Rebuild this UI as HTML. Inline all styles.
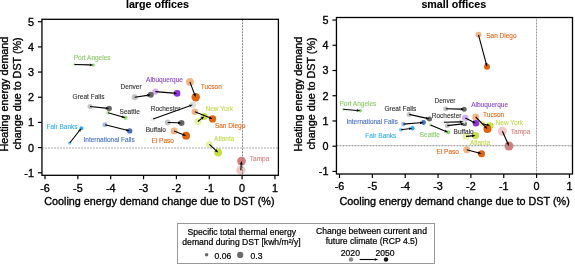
<!DOCTYPE html>
<html><head><meta charset="utf-8"><style>
html,body{margin:0;padding:0;background:#fff;}
body{width:575px;height:264px;overflow:hidden;}
text{stroke-width:0.35px;} text.s{stroke-width:0.12px;} text.lg{stroke-width:0.22px;} text.t{stroke-width:0.12px;}
svg{display:block;will-change:transform;font-family:"Liberation Sans",sans-serif;}
</style></head><body>
<svg width="575" height="264" viewBox="0 0 575 264">
<circle cx="74.5" cy="64.5" r="1.6" fill="#c4e8ae"/><circle cx="90" cy="106.5" r="2.5" fill="#c4c4c4"/><circle cx="108" cy="112.8" r="2.0" fill="#c4e8ae"/><circle cx="134.7" cy="97.3" r="3" fill="#c4c4c4"/><circle cx="155.4" cy="91.6" r="3.1" fill="#d6acf6"/><circle cx="189.9" cy="81.9" r="3.9" fill="#f3b584"/><circle cx="153.1" cy="119.1" r="2.6" fill="#f0f0f0"/><circle cx="167.7" cy="122.5" r="3" fill="#c4c4c4"/><circle cx="194.8" cy="111.8" r="3.3" fill="#f3b584"/><circle cx="197.9" cy="121.5" r="3.5" fill="#e4f2a4"/><circle cx="174.1" cy="131.1" r="3.5" fill="#f3b584"/><circle cx="209.4" cy="144.4" r="3.5" fill="#e4f2a4"/><circle cx="240.8" cy="170.3" r="4.5" fill="#f0c6c6"/><circle cx="69.7" cy="143" r="1.8" fill="#84d4f8"/><circle cx="105" cy="124.8" r="2.5" fill="#aabae6"/><circle cx="93.2" cy="65" r="1.6" fill="#90da70"/><circle cx="109.2" cy="108.5" r="2.7" fill="#686868"/><circle cx="125.5" cy="117.8" r="2.1" fill="#90da70"/><circle cx="150.8" cy="94.8" r="3" fill="#686868"/><circle cx="177.1" cy="93.4" r="3.3" fill="#8e2fe0"/><circle cx="195.7" cy="97.2" r="4.2" fill="#e0640c"/><circle cx="192.8" cy="104.8" r="3.2" fill="#dedede"/><circle cx="181.5" cy="122.9" r="3" fill="#686868"/><circle cx="212.6" cy="118.9" r="3.6" fill="#e0640c"/><circle cx="204.2" cy="116.4" r="3.5" fill="#c8e048"/><circle cx="186.1" cy="135.7" r="3.9" fill="#e0640c"/><circle cx="218.2" cy="152.6" r="4" fill="#c8e048"/><circle cx="241.5" cy="161.1" r="4.4" fill="#d87e7e"/><circle cx="81.4" cy="128.2" r="2.0" fill="#2eb0ee"/><circle cx="129.7" cy="130.9" r="2.7" fill="#4a6ec2"/><line x1="41.95" y1="148.0" x2="278.4" y2="148.0" stroke="#aaa" stroke-width="1" stroke-dasharray="2,1"/><line x1="242.5" y1="19.3" x2="242.5" y2="175.3" stroke="#888" stroke-width="1" stroke-dasharray="2,1" stroke-dashoffset="0"/><line x1="74.50" y1="64.50" x2="89.60" y2="64.90" stroke="#000" stroke-width="1.1"/><polygon points="93.20,65.00 89.57,66.25 89.64,63.55" fill="#000"/><line x1="90.00" y1="106.50" x2="105.62" y2="108.13" stroke="#000" stroke-width="1.1"/><polygon points="109.20,108.50 105.48,109.47 105.76,106.78" fill="#000"/><line x1="108.00" y1="112.80" x2="122.04" y2="116.81" stroke="#000" stroke-width="1.1"/><polygon points="125.50,117.80 121.67,118.11 122.41,115.51" fill="#000"/><line x1="134.70" y1="97.30" x2="147.24" y2="95.35" stroke="#000" stroke-width="1.1"/><polygon points="150.80,94.80 147.45,96.69 147.04,94.02" fill="#000"/><line x1="155.40" y1="91.60" x2="173.51" y2="93.10" stroke="#000" stroke-width="1.1"/><polygon points="177.10,93.40 173.40,94.45 173.62,91.76" fill="#000"/><line x1="189.90" y1="81.90" x2="194.42" y2="93.83" stroke="#000" stroke-width="1.1"/><polygon points="195.70,97.20 193.16,94.31 195.69,93.36" fill="#000"/><line x1="153.10" y1="119.10" x2="189.41" y2="106.02" stroke="#000" stroke-width="1.1"/><polygon points="192.80,104.80 189.87,107.29 188.96,104.75" fill="#000"/><line x1="167.70" y1="122.50" x2="177.90" y2="122.80" stroke="#000" stroke-width="1.1"/><polygon points="181.50,122.90 177.86,124.15 177.94,121.45" fill="#000"/><line x1="194.80" y1="111.80" x2="209.26" y2="117.57" stroke="#000" stroke-width="1.1"/><polygon points="212.60,118.90 208.76,118.82 209.76,116.31" fill="#000"/><line x1="197.90" y1="121.50" x2="201.40" y2="118.67" stroke="#000" stroke-width="1.1"/><polygon points="204.20,116.40 202.25,119.71 200.55,117.62" fill="#000"/><line x1="174.10" y1="131.10" x2="182.74" y2="134.41" stroke="#000" stroke-width="1.1"/><polygon points="186.10,135.70 182.26,135.67 183.22,133.15" fill="#000"/><line x1="209.40" y1="144.40" x2="215.57" y2="150.15" stroke="#000" stroke-width="1.1"/><polygon points="218.20,152.60 214.65,151.13 216.49,149.16" fill="#000"/><line x1="240.80" y1="170.30" x2="241.23" y2="164.69" stroke="#000" stroke-width="1.1"/><polygon points="241.50,161.10 242.57,164.79 239.88,164.59" fill="#000"/><line x1="69.70" y1="143.00" x2="79.17" y2="131.02" stroke="#000" stroke-width="1.1"/><polygon points="81.40,128.20 80.23,131.86 78.11,130.19" fill="#000"/><line x1="105.00" y1="124.80" x2="126.21" y2="130.04" stroke="#000" stroke-width="1.1"/><polygon points="129.70,130.90 125.88,131.35 126.53,128.73" fill="#000"/><text stroke="#8ccc6a" x="73.7" y="59.8" fill="#8ccc6a" font-size="6.5" class="s">Port Angeles</text><text stroke="#333333" x="72.60000000000001" y="99.4" fill="#333333" font-size="6.5" class="s">Great Falls</text><text stroke="#333333" x="119.60000000000001" y="114.2" fill="#333333" font-size="6.5" class="s">Seattle</text><text stroke="#333333" x="120.60000000000001" y="88.9" fill="#333333" font-size="6.5" class="s">Denver</text><text stroke="#8a4cca" x="146.1" y="82.1" fill="#8a4cca" font-size="6.5" class="s">Albuquerque</text><text stroke="#e2691c" x="200.7" y="88.9" fill="#e2691c" font-size="6.5" class="s">Tucson</text><text stroke="#333333" x="150.7" y="110.9" fill="#333333" font-size="6.5" class="s">Rochester</text><text stroke="#333333" x="145.7" y="132.1" fill="#333333" font-size="6.5" class="s">Buffalo</text><text stroke="#e2691c" x="214.89999999999998" y="128" fill="#e2691c" font-size="6.5" class="s">San Diego</text><text stroke="#c4d850" x="205.5" y="110.9" fill="#c4d850" font-size="6.5" class="s">New York</text><text stroke="#e2691c" x="151.5" y="142.9" fill="#e2691c" font-size="6.5" class="s">El Paso</text><text stroke="#c4d850" x="214.1" y="140.9" fill="#c4d850" font-size="6.5" class="s">Atlanta</text><text stroke="#d88484" x="249.79999999999998" y="160.6" fill="#d88484" font-size="6.5" class="s">Tampa</text><text stroke="#38b0e8" x="46.5" y="128.5" fill="#38b0e8" font-size="6.5" class="s">Fair Banks</text><text stroke="#4a70c0" x="83.5" y="141.8" fill="#4a70c0" font-size="6.5" class="s">International Falls</text><rect x="41.95" y="19.3" width="236.45" height="156.0" fill="none" stroke="#000" stroke-width="1.3"/><line x1="37.95" y1="172.78" x2="41.95" y2="172.78" stroke="#000" stroke-width="1.2"/><text stroke="#000" x="33.95" y="176.68" text-anchor="end" font-size="10.8">-1</text><line x1="37.95" y1="147.60" x2="41.95" y2="147.60" stroke="#000" stroke-width="1.2"/><text stroke="#000" x="33.95" y="151.50" text-anchor="end" font-size="10.8">0</text><line x1="37.95" y1="122.42" x2="41.95" y2="122.42" stroke="#000" stroke-width="1.2"/><text stroke="#000" x="33.95" y="126.33" text-anchor="end" font-size="10.8">1</text><line x1="37.95" y1="97.25" x2="41.95" y2="97.25" stroke="#000" stroke-width="1.2"/><text stroke="#000" x="33.95" y="101.15" text-anchor="end" font-size="10.8">2</text><line x1="37.95" y1="72.07" x2="41.95" y2="72.07" stroke="#000" stroke-width="1.2"/><text stroke="#000" x="33.95" y="75.97" text-anchor="end" font-size="10.8">3</text><line x1="37.95" y1="46.90" x2="41.95" y2="46.90" stroke="#000" stroke-width="1.2"/><text stroke="#000" x="33.95" y="50.80" text-anchor="end" font-size="10.8">4</text><line x1="37.95" y1="21.72" x2="41.95" y2="21.72" stroke="#000" stroke-width="1.2"/><text stroke="#000" x="33.95" y="25.62" text-anchor="end" font-size="10.8">5</text><line x1="45.00" y1="175.3" x2="45.00" y2="179.3" stroke="#000" stroke-width="1.2"/><text stroke="#000" x="45.00" y="191.60" text-anchor="middle" font-size="10.8">-6</text><line x1="77.85" y1="175.3" x2="77.85" y2="179.3" stroke="#000" stroke-width="1.2"/><text stroke="#000" x="77.85" y="191.60" text-anchor="middle" font-size="10.8">-5</text><line x1="110.70" y1="175.3" x2="110.70" y2="179.3" stroke="#000" stroke-width="1.2"/><text stroke="#000" x="110.70" y="191.60" text-anchor="middle" font-size="10.8">-4</text><line x1="143.55" y1="175.3" x2="143.55" y2="179.3" stroke="#000" stroke-width="1.2"/><text stroke="#000" x="143.55" y="191.60" text-anchor="middle" font-size="10.8">-3</text><line x1="176.40" y1="175.3" x2="176.40" y2="179.3" stroke="#000" stroke-width="1.2"/><text stroke="#000" x="176.40" y="191.60" text-anchor="middle" font-size="10.8">-2</text><line x1="209.25" y1="175.3" x2="209.25" y2="179.3" stroke="#000" stroke-width="1.2"/><text stroke="#000" x="209.25" y="191.60" text-anchor="middle" font-size="10.8">-1</text><line x1="242.10" y1="175.3" x2="242.10" y2="179.3" stroke="#000" stroke-width="1.2"/><text stroke="#000" x="242.10" y="191.60" text-anchor="middle" font-size="10.8">0</text><line x1="274.95" y1="175.3" x2="274.95" y2="179.3" stroke="#000" stroke-width="1.2"/><text stroke="#000" x="274.95" y="191.60" text-anchor="middle" font-size="10.8">1</text><circle cx="478.5" cy="34.8" r="3" fill="#f3b584"/><circle cx="343.3" cy="109.2" r="1.5" fill="#c4e8ae"/><circle cx="409.1" cy="114.4" r="2.5" fill="#c4c4c4"/><circle cx="403.4" cy="124.1" r="2.3" fill="#aabae6"/><circle cx="400.9" cy="129.7" r="2.1" fill="#84d4f8"/><circle cx="430.6" cy="125" r="1.8" fill="#c4e8ae"/><circle cx="445.8" cy="108.8" r="2.5" fill="#c4c4c4"/><circle cx="447.3" cy="125.6" r="2.5" fill="#c4c4c4"/><circle cx="444" cy="122.3" r="2.5" fill="#f0f0f0"/><circle cx="465.3" cy="118" r="3.3" fill="#d6acf6"/><circle cx="482.5" cy="123.75" r="3" fill="#e4f2a4"/><circle cx="475.7" cy="117" r="3.4" fill="#f3b584"/><circle cx="502.4" cy="131.2" r="4.5" fill="#f0c6c6"/><circle cx="466" cy="136.4" r="3.4" fill="#e4f2a4"/><circle cx="466.7" cy="149.7" r="3.5" fill="#f3b584"/><circle cx="487" cy="66.7" r="3" fill="#e0640c"/><circle cx="360.3" cy="110.8" r="1.7" fill="#90da70"/><circle cx="429.5" cy="118.9" r="2.5" fill="#686868"/><circle cx="423.5" cy="122.5" r="2.4" fill="#4a6ec2"/><circle cx="412.4" cy="128.3" r="2.2" fill="#2eb0ee"/><circle cx="448.2" cy="132.3" r="2" fill="#90da70"/><circle cx="464.2" cy="109.2" r="2.5" fill="#686868"/><circle cx="464.4" cy="123.7" r="2.5" fill="#686868"/><circle cx="463.4" cy="121.8" r="2.4" fill="#dedede"/><circle cx="476" cy="123.3" r="3.3" fill="#8e2fe0"/><circle cx="490.2" cy="125.5" r="3.3" fill="#c8e048"/><circle cx="487.4" cy="129" r="4" fill="#e0640c"/><circle cx="509" cy="146" r="4.5" fill="#d87e7e"/><circle cx="475.6" cy="135.5" r="3.6" fill="#c8e048"/><circle cx="481.5" cy="153.8" r="3.5" fill="#e0640c"/><line x1="336.45" y1="145.75" x2="572.5" y2="145.75" stroke="#888" stroke-width="1" stroke-dasharray="2,1"/><line x1="536.5" y1="17.5" x2="536.5" y2="174.0" stroke="#999" stroke-width="1" stroke-dasharray="2,1" stroke-dashoffset="1"/><line x1="478.50" y1="34.80" x2="486.07" y2="63.22" stroke="#000" stroke-width="1.1"/><polygon points="487.00,66.70 484.77,63.57 487.38,62.87" fill="#000"/><line x1="343.30" y1="109.20" x2="356.72" y2="110.46" stroke="#000" stroke-width="1.1"/><polygon points="360.30,110.80 356.59,111.81 356.84,109.12" fill="#000"/><line x1="409.10" y1="114.40" x2="425.98" y2="118.12" stroke="#000" stroke-width="1.1"/><polygon points="429.50,118.90 425.69,119.44 426.28,116.81" fill="#000"/><line x1="403.40" y1="124.10" x2="419.91" y2="122.79" stroke="#000" stroke-width="1.1"/><polygon points="423.50,122.50 420.02,124.13 419.80,121.44" fill="#000"/><line x1="400.90" y1="129.70" x2="408.83" y2="128.74" stroke="#000" stroke-width="1.1"/><polygon points="412.40,128.30 408.99,130.08 408.66,127.39" fill="#000"/><line x1="430.60" y1="125.00" x2="444.87" y2="130.92" stroke="#000" stroke-width="1.1"/><polygon points="448.20,132.30 444.36,132.17 445.39,129.67" fill="#000"/><line x1="445.80" y1="108.80" x2="460.60" y2="109.12" stroke="#000" stroke-width="1.1"/><polygon points="464.20,109.20 460.57,110.47 460.63,107.77" fill="#000"/><line x1="447.30" y1="125.60" x2="460.82" y2="124.10" stroke="#000" stroke-width="1.1"/><polygon points="464.40,123.70 460.97,125.44 460.67,122.76" fill="#000"/><line x1="444.00" y1="122.30" x2="459.80" y2="121.89" stroke="#000" stroke-width="1.1"/><polygon points="463.40,121.80 459.84,123.24 459.77,120.54" fill="#000"/><line x1="465.30" y1="118.00" x2="472.77" y2="121.70" stroke="#000" stroke-width="1.1"/><polygon points="476.00,123.30 472.17,122.91 473.37,120.49" fill="#000"/><line x1="482.50" y1="123.75" x2="486.69" y2="124.70" stroke="#000" stroke-width="1.1"/><polygon points="490.20,125.50 486.39,126.02 486.99,123.39" fill="#000"/><line x1="475.70" y1="117.00" x2="484.89" y2="126.42" stroke="#000" stroke-width="1.1"/><polygon points="487.40,129.00 483.92,127.36 485.85,125.48" fill="#000"/><line x1="502.40" y1="131.20" x2="507.53" y2="142.71" stroke="#000" stroke-width="1.1"/><polygon points="509.00,146.00 506.30,143.26 508.77,142.16" fill="#000"/><line x1="466.00" y1="136.40" x2="472.02" y2="135.84" stroke="#000" stroke-width="1.1"/><polygon points="475.60,135.50 472.14,137.18 471.89,134.49" fill="#000"/><line x1="466.70" y1="149.70" x2="478.03" y2="152.84" stroke="#000" stroke-width="1.1"/><polygon points="481.50,153.80 477.67,154.14 478.39,151.54" fill="#000"/><text stroke="#e2691c" x="486.2" y="37.9" fill="#e2691c" font-size="6.5" class="s">San Diego</text><text stroke="#8ccc6a" x="339.5" y="106.2" fill="#8ccc6a" font-size="6.5" class="s">Port Angeles</text><text stroke="#333333" x="384.5" y="110.9" fill="#333333" font-size="6.5" class="s">Great Falls</text><text stroke="#4a70c0" x="346.4" y="124.2" fill="#4a70c0" font-size="6.5" class="s">International Falls</text><text stroke="#38b0e8" x="365.3" y="138.2" fill="#38b0e8" font-size="6.5" class="s">Fair Banks</text><text stroke="#8ccc6a" x="419.7" y="137" fill="#8ccc6a" font-size="6.5" class="s">Seattle</text><text stroke="#333333" x="434.5" y="102.9" fill="#333333" font-size="6.5" class="s">Denver</text><text stroke="#333333" x="453.59999999999997" y="133.6" fill="#333333" font-size="6.5" class="s">Buffalo</text><text stroke="#333333" x="431.8" y="117.6" fill="#333333" font-size="6.5" class="s">Rochester</text><text stroke="#8a4cca" x="471.2" y="107.4" fill="#8a4cca" font-size="6.5" class="s">Albuquerque</text><text stroke="#c4d850" x="495.59999999999997" y="124.9" fill="#c4d850" font-size="6.5" class="s">New York</text><text stroke="#e2691c" x="483.09999999999997" y="116.7" fill="#e2691c" font-size="6.5" class="s">Tucson</text><text stroke="#d88484" x="510.8" y="133.9" fill="#d88484" font-size="6.5" class="s">Tampa</text><text stroke="#c4d850" x="469.9" y="144.8" fill="#c4d850" font-size="6.5" class="s">Atlanta</text><text stroke="#e2691c" x="436.5" y="153.5" fill="#e2691c" font-size="6.5" class="s">El Paso</text><rect x="336.45" y="17.5" width="236.05" height="156.5" fill="none" stroke="#000" stroke-width="1.3"/><line x1="332.45" y1="171.43" x2="336.45" y2="171.43" stroke="#000" stroke-width="1.2"/><text stroke="#000" x="328.45" y="175.33" text-anchor="end" font-size="10.8">-1</text><line x1="332.45" y1="146.20" x2="336.45" y2="146.20" stroke="#000" stroke-width="1.2"/><text stroke="#000" x="328.45" y="150.10" text-anchor="end" font-size="10.8">0</text><line x1="332.45" y1="120.97" x2="336.45" y2="120.97" stroke="#000" stroke-width="1.2"/><text stroke="#000" x="328.45" y="124.87" text-anchor="end" font-size="10.8">1</text><line x1="332.45" y1="95.74" x2="336.45" y2="95.74" stroke="#000" stroke-width="1.2"/><text stroke="#000" x="328.45" y="99.64" text-anchor="end" font-size="10.8">2</text><line x1="332.45" y1="70.51" x2="336.45" y2="70.51" stroke="#000" stroke-width="1.2"/><text stroke="#000" x="328.45" y="74.41" text-anchor="end" font-size="10.8">3</text><line x1="332.45" y1="45.28" x2="336.45" y2="45.28" stroke="#000" stroke-width="1.2"/><text stroke="#000" x="328.45" y="49.18" text-anchor="end" font-size="10.8">4</text><line x1="332.45" y1="20.05" x2="336.45" y2="20.05" stroke="#000" stroke-width="1.2"/><text stroke="#000" x="328.45" y="23.95" text-anchor="end" font-size="10.8">5</text><line x1="339.50" y1="174.0" x2="339.50" y2="178.0" stroke="#000" stroke-width="1.2"/><text stroke="#000" x="339.50" y="189.90" text-anchor="middle" font-size="10.8">-6</text><line x1="372.35" y1="174.0" x2="372.35" y2="178.0" stroke="#000" stroke-width="1.2"/><text stroke="#000" x="372.35" y="189.90" text-anchor="middle" font-size="10.8">-5</text><line x1="405.20" y1="174.0" x2="405.20" y2="178.0" stroke="#000" stroke-width="1.2"/><text stroke="#000" x="405.20" y="189.90" text-anchor="middle" font-size="10.8">-4</text><line x1="438.05" y1="174.0" x2="438.05" y2="178.0" stroke="#000" stroke-width="1.2"/><text stroke="#000" x="438.05" y="189.90" text-anchor="middle" font-size="10.8">-3</text><line x1="470.90" y1="174.0" x2="470.90" y2="178.0" stroke="#000" stroke-width="1.2"/><text stroke="#000" x="470.90" y="189.90" text-anchor="middle" font-size="10.8">-2</text><line x1="503.75" y1="174.0" x2="503.75" y2="178.0" stroke="#000" stroke-width="1.2"/><text stroke="#000" x="503.75" y="189.90" text-anchor="middle" font-size="10.8">-1</text><line x1="536.60" y1="174.0" x2="536.60" y2="178.0" stroke="#000" stroke-width="1.2"/><text stroke="#000" x="536.60" y="189.90" text-anchor="middle" font-size="10.8">0</text><line x1="569.45" y1="174.0" x2="569.45" y2="178.0" stroke="#000" stroke-width="1.2"/><text stroke="#000" x="569.45" y="189.90" text-anchor="middle" font-size="10.8">1</text><text stroke="#000" x="157.4" y="8" text-anchor="middle" font-size="10.7" font-weight="bold" class="t">large offices</text><text stroke="#000" x="453.8" y="7.7" text-anchor="middle" font-size="10.7" font-weight="bold" class="t">small offices</text><text stroke="#000" x="159.35" y="205.1" text-anchor="middle" font-size="10.8">Cooling energy demand change due to DST (%)</text><text stroke="#000" x="454.6" y="205.0" text-anchor="middle" font-size="10.8">Cooling energy demand change due to DST (%)</text><text stroke="#000" transform="translate(7.7,94.10000000000001) rotate(-90)" x="0" y="0" text-anchor="middle" font-size="10.75">Heating energy demand</text><text stroke="#000" transform="translate(20.8,93.45) rotate(-90)" x="0" y="0" text-anchor="middle" font-size="10.75">change due to DST (%)</text><text stroke="#000" transform="translate(302.0,94.15) rotate(-90)" x="0" y="0" text-anchor="middle" font-size="10.75">Heating energy demand</text><text stroke="#000" transform="translate(315.0,93.5) rotate(-90)" x="0" y="0" text-anchor="middle" font-size="10.75">change due to DST (%)</text><rect x="177.5" y="223.5" width="257" height="40" fill="none" stroke="#999" stroke-width="1"/><text stroke="#000" x="241.8" y="234.8" text-anchor="middle" font-size="8.6" class="lg">Specific total thermal energy</text><text stroke="#000" x="241.5" y="244.6" text-anchor="middle" font-size="8.6" class="lg">demand during DST [kwh/m²/y]</text><circle cx="206.6" cy="254.7" r="1.8" fill="#6a6a6a"/><text stroke="#000" x="214.5" y="258.8" font-size="8.6" class="lg">0.06</text><circle cx="240.2" cy="254.9" r="3.1" fill="#6a6a6a"/><text stroke="#000" x="250.6" y="258.8" font-size="8.6" class="lg">0.3</text><text stroke="#000" x="371.5" y="234.0" text-anchor="middle" font-size="8.6" class="lg">Change between current and</text><text stroke="#000" x="371.7" y="244.2" text-anchor="middle" font-size="8.6" class="lg">future climate (RCP 4.5)</text><text stroke="#000" x="340.8" y="256.2" font-size="8.6" class="lg">2020</text><text stroke="#000" x="375.4" y="256.2" font-size="8.6" class="lg">2050</text><circle cx="351" cy="259.5" r="2.2" fill="#888"/><circle cx="386" cy="259.5" r="2.2" fill="#111"/><line x1="359.60" y1="259.50" x2="374.70" y2="259.50" stroke="#000" stroke-width="1.1"/><polygon points="378.30,259.50 374.70,260.85 374.70,258.15" fill="#000"/>
</svg>
</body></html>
